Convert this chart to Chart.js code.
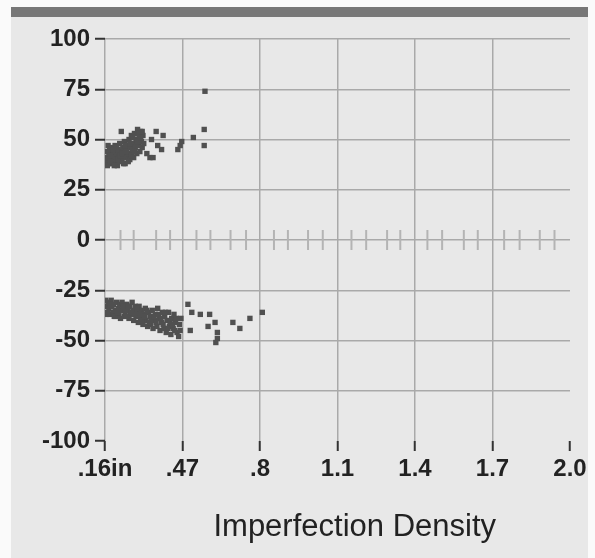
<!DOCTYPE html>
<html lang="en">
<head>
<meta charset="UTF-8">
<title>Imperfection Density</title>
<script src="https://cdn.jsdelivr.net/npm/chart.js"></script>
<style>
	html, body {
		margin: 0;
		padding: 0;
		background: #fafafa;
		width: 595px;
		height: 558px;
		overflow: hidden;
	}

	/* grey panel with the dark strip on top */
	.panel {
		position: absolute;
		left: 11px;
		top: 7px;
		width: 577px;
		height: 551px;
		background: #e8e8e8;
		border-top: 10px solid #777;
		box-sizing: border-box;
	}

	#chart {
		position: absolute;
		left: 0;
		top: 0;
	}
</style>
</head>
<body>
<div class="panel"></div>
<canvas id="chart" width="595" height="558"></canvas>

<script>
	// x ticks sit at evenly spaced positions 0..6
	const xLabels = ['.16in', '.47', '.8', '1.1', '1.4', '1.7', '2.0'];
	const yMin = -100;
	const yMax = 100;
	const yStep = 25;

	// upper cluster [x position, value]
	const upperPoints = [
		[0.02, 39], [0.02, 44], [0.03, 41], [0.04, 47], [0.05, 38], [0.05, 43], [0.06, 45],
		[0.08, 40], [0.08, 46], [0.09, 42], [0.10, 38], [0.11, 44], [0.12, 41], [0.13, 47],
		[0.14, 39], [0.15, 43], [0.16, 37], [0.17, 45], [0.18, 41], [0.19, 48], [0.20, 39],
		[0.21, 44], [0.22, 40], [0.23, 46], [0.24, 42], [0.25, 49], [0.26, 38], [0.27, 45],
		[0.28, 41], [0.29, 47], [0.30, 43], [0.31, 50], [0.32, 40], [0.33, 46], [0.34, 52],
		[0.35, 44], [0.36, 48], [0.37, 41], [0.38, 53], [0.39, 46], [0.40, 50], [0.41, 43],
		[0.42, 55], [0.43, 47], [0.44, 51], [0.45, 44], [0.46, 54], [0.47, 49], [0.48, 46],
		[0.49, 52], [0.50, 48],
		[0.03, 37], [0.07, 39], [0.07, 42], [0.10, 45], [0.12, 37], [0.15, 46], [0.17, 40],
		[0.19, 42], [0.22, 43], [0.24, 38], [0.26, 47], [0.28, 44], [0.30, 39], [0.32, 48],
		[0.34, 42], [0.36, 51], [0.38, 44], [0.40, 47], [0.42, 49], [0.44, 53], [0.46, 51],
		[0.48, 54],
		[0.21, 54], [0.54, 43], [0.58, 41], [0.60, 50], [0.62, 41],
		[0.66, 54], [0.68, 47], [0.73, 45], [0.75, 52], [0.94, 45], [0.97, 47], [0.99, 49],
		[1.14, 51], [1.28, 55], [1.28, 47], [1.29, 74]
	];

	// lower cluster [x position, value]
	const lowerPoints = [
		[0.01, -30], [0.02, -33], [0.03, -36], [0.04, -31], [0.05, -34], [0.06, -37], [0.08, -30],
		[0.09, -33], [0.10, -36], [0.11, -32], [0.13, -35], [0.14, -38], [0.15, -31], [0.17, -34],
		[0.18, -37], [0.19, -32], [0.21, -35], [0.22, -31], [0.24, -34], [0.25, -38], [0.26, -36],
		[0.28, -32], [0.29, -35], [0.31, -39], [0.32, -33], [0.33, -37], [0.35, -31], [0.36, -35],
		[0.37, -40], [0.39, -33], [0.40, -38], [0.42, -36], [0.43, -41], [0.44, -33], [0.46, -39],
		[0.47, -35], [0.49, -42], [0.50, -37], [0.52, -34], [0.53, -40], [0.55, -43], [0.56, -36],
		[0.58, -38], [0.59, -42], [0.61, -35], [0.62, -44], [0.64, -40], [0.65, -37], [0.67, -43],
		[0.68, -34], [0.70, -39], [0.71, -45], [0.73, -41], [0.74, -36], [0.76, -44], [0.77, -38],
		[0.79, -46], [0.80, -40], [0.82, -36], [0.83, -43], [0.85, -47], [0.86, -39], [0.88, -44],
		[0.89, -37], [0.91, -41], [0.93, -46], [0.95, -48], [0.96, -42], [0.98, -39],
		[0.02, -37], [0.07, -32], [0.12, -38], [0.16, -36], [0.20, -39], [0.23, -33], [0.27, -38],
		[0.30, -33], [0.34, -36], [0.38, -37], [0.41, -34], [0.45, -37], [0.48, -40], [0.51, -38],
		[0.54, -35], [0.57, -41], [0.60, -40], [0.63, -38], [0.66, -41], [0.69, -37], [0.72, -39],
		[0.75, -42], [0.78, -36], [0.81, -44], [0.84, -41], [0.87, -42], [0.90, -45], [0.92, -39],
		[0.97, -45],
		[1.07, -32], [1.12, -36], [1.10, -45], [1.23, -37], [1.35, -37], [1.33, -43], [1.42, -41],
		[1.45, -46], [1.45, -49], [1.43, -51], [1.65, -41], [1.74, -44], [1.87, -39], [2.03, -36]
	];

	// small marks along the zero line
	const zeroMarks = [
		0.20, 0.37, 0.66, 0.84, 1.18, 1.36, 1.62, 1.82, 2.18, 2.36, 2.62, 2.81,
		3.18, 3.37, 3.64, 3.81, 4.16, 4.35, 4.63, 4.81, 5.15, 5.35, 5.61, 5.80
	];

	const toXY = p => ({x: p[0], y: p[1]});
	const gridColor = '#a9a9a9';
	const fontFamily = "'Liberation Sans', Arial, sans-serif";
	const labelFont = {family: fontFamily, size: 24, weight: 'bold'};

	new Chart(document.getElementById('chart'), {
		type: 'scatter',
		data: {
			datasets: [
				{
					data: zeroMarks.map(x => ({x: x, y: 0})),
					pointStyle: 'line',
					rotation: 90,
					pointRadius: 10,
					borderColor: '#b4b4b4',
					borderWidth: 2
				},
				{
					data: upperPoints.map(toXY),
					pointStyle: 'rect',
					pointRadius: 3.8,
					backgroundColor: '#505050',
					borderWidth: 0
				},
				{
					data: lowerPoints.map(toXY),
					pointStyle: 'rect',
					pointRadius: 3.8,
					backgroundColor: '#505050',
					borderWidth: 0
				}
			]
		},
		options: {
			responsive: false,
			animation: false,
			layout: {padding: {top: 39, right: 25, bottom: 0, left: 0}},
			plugins: {
				legend: {display: false},
				tooltip: {enabled: false}
			},
			scales: {
				x: {
					type: 'linear',
					min: 0,
					max: xLabels.length - 1,
					afterFit: scale => { scale.height = 117; },
					ticks: {
						stepSize: 1,
						padding: 4,
						color: '#222',
						font: labelFont,
						maxRotation: 0,
						callback: value => xLabels[value]
					},
					grid: {
						color: ctx => ctx.tick && ctx.tick.value === xLabels.length - 1 ? 'transparent' : gridColor,
						lineWidth: 1.5,
						tickColor: '#333',
						tickWidth: 2,
						tickLength: 10
					},
					border: {display: false},
					title: {
						display: true,
						// leading spaces push the title a little right, as in the original
						text: '    Imperfection Density',
						color: '#222',
						font: {family: fontFamily, size: 31},
						padding: {top: 0, bottom: 12}
					}
				},
				y: {
					min: yMin,
					max: yMax,
					afterFit: scale => { scale.width = 105; },
					ticks: {
						stepSize: yStep,
						padding: 5,
						color: '#222',
						font: labelFont
					},
					grid: {
						color: ctx => ctx.tick && ctx.tick.value === yMin ? 'transparent' : gridColor,
						lineWidth: 1.5,
						tickColor: '#333',
						tickWidth: 2,
						tickLength: 10
					},
					border: {display: false}
				}
			}
		}
	});
</script>
</body>
</html>
